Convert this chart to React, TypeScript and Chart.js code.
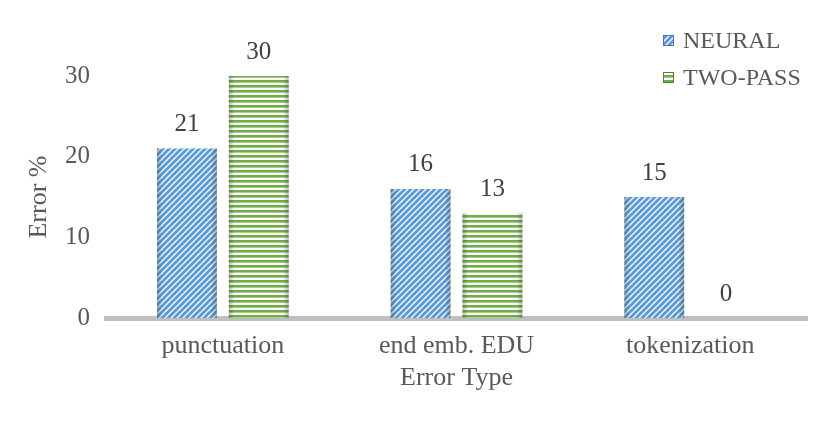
import React, { useEffect, useRef } from "react";
import { Chart, registerables } from "chart.js";

Chart.register(...registerables);

const categories = ["punctuation", "end emb. EDU", "tokenization"];
const neuralValues = [21, 16, 15];
const twoPassValues = [30, 13, 0];
const yTicks = [0, 10, 20, 30];
const seriesNames = ["NEURAL", "TWO-PASS"];

const FONT = "'Liberation Serif', 'Times New Roman', serif";
const TEXT = "#595959";

function makeDiagPattern(): CanvasPattern | string {
  const s = 6;
  const c = document.createElement("canvas");
  c.width = s;
  c.height = s;
  const x = c.getContext("2d");
  if (!x) return "#5B9BD5";
  x.fillStyle = "#ffffff";
  x.fillRect(0, 0, s, s);
  x.strokeStyle = "#5B9BD5";
  x.lineWidth = 3;
  x.beginPath();
  for (let k = -1; k <= 1; k++) {
    x.moveTo(k * s - 1, s + 1);
    x.lineTo(k * s + s + 1, -1);
  }
  x.stroke();
  const p = x.createPattern(c, "repeat");
  return p || "#5B9BD5";
}

function makeHorizPattern(): CanvasPattern | string {
  const h = 5;
  const c = document.createElement("canvas");
  c.width = 4;
  c.height = h;
  const x = c.getContext("2d");
  if (!x) return "#70AD47";
  x.fillStyle = "#ffffff";
  x.fillRect(0, 0, 4, h);
  x.fillStyle = "#70AD47";
  x.fillRect(0, 0, 4, 2.6);
  const p = x.createPattern(c, "repeat");
  return p || "#70AD47";
}

export default function App() {
  const ref = useRef<HTMLCanvasElement | null>(null);

  useEffect(() => {
    if (!ref.current) return;
    const blue = makeDiagPattern();
    const green = makeHorizPattern();

    const shadePlugin = {
      id: "shade",
      afterDatasetsDraw(chart: any) {
        const ctx = chart.ctx;
        chart.data.datasets.forEach((_ds: any, i: number) => {
          const meta = chart.getDatasetMeta(i);
          meta.data.forEach((bar: any) => {
            const left = bar.x - bar.width / 2;
            const w = bar.width;
            const top = bar.y;
            const hgt = bar.base - bar.y;
            if (hgt <= 0) return;
            const g = ctx.createLinearGradient(left, 0, left + w, 0);
            g.addColorStop(0, "rgba(60,60,60,0.35)");
            g.addColorStop(0.1, "rgba(60,60,60,0)");
            g.addColorStop(0.9, "rgba(60,60,60,0)");
            g.addColorStop(1, "rgba(60,60,60,0.35)");
            ctx.save();
            ctx.fillStyle = g;
            ctx.fillRect(left, top, w, hgt);
            ctx.restore();
          });
        });
      },
    };

    const labelPlugin = {
      id: "dataLabels",
      afterDatasetsDraw(chart: any) {
        const ctx = chart.ctx;
        ctx.save();
        ctx.font = `25px ${FONT}`;
        ctx.fillStyle = "#404040";
        ctx.textAlign = "center";
        ctx.textBaseline = "middle";
        chart.data.datasets.forEach((ds: any, i: number) => {
          const meta = chart.getDatasetMeta(i);
          meta.data.forEach((bar: any, j: number) => {
            ctx.fillText(String(ds.data[j]), bar.x, bar.y - 24);
          });
        });
        ctx.restore();
      },
    };

    const legendPlugin = {
      id: "customLegend",
      afterDraw(chart: any) {
        const ctx = chart.ctx;
        ctx.save();
        ctx.font = `24px ${FONT}`;
        ctx.textBaseline = "middle";
        ctx.textAlign = "left";
        const fills = [blue, green];
        const ys = [41, 78];
        seriesNames.forEach((name, i) => {
          ctx.fillStyle = fills[i];
          ctx.fillRect(663, ys[i] - 6, 11, 11);
          ctx.strokeStyle = i === 0 ? "#4472C4" : "#548235";
          ctx.lineWidth = 1;
          ctx.strokeRect(663.5, ys[i] - 5.5, 10, 10);
          ctx.fillStyle = TEXT;
          ctx.fillText(name, 683, ys[i] + 1);
        });
        ctx.restore();
      },
    };

    const chart = new Chart(ref.current, {
      type: "bar",
      data: {
        labels: categories,
        datasets: [
          {
            label: seriesNames[0],
            data: neuralValues,
            backgroundColor: blue as any,
            borderWidth: 0,
            categoryPercentage: 0.615,
            barPercentage: 0.833,
          },
          {
            label: seriesNames[1],
            data: twoPassValues,
            backgroundColor: green as any,
            borderWidth: 0,
            categoryPercentage: 0.615,
            barPercentage: 0.833,
          },
        ],
      },
      options: {
        animation: false,
        responsive: true,
        maintainAspectRatio: false,
        layout: { padding: { left: 0, right: 23, top: 76, bottom: 29 } },
        plugins: {
          legend: { display: false },
          tooltip: { enabled: false },
        },
        scales: {
          x: {
            grid: { display: false, drawTicks: false },
            border: { display: true, color: "#bfbfbf", width: 5 },
            ticks: {
              color: TEXT,
              font: { family: FONT, size: 26 },
              padding: 13,
            },
            title: {
              display: true,
              text: "Error Type",
              color: TEXT,
              font: { family: FONT, size: 26 },
              padding: { top: 0, bottom: 0 },
            },
            afterFit: (s: any) => {
              s.height = 76;
            },
          },
          y: {
            min: 0,
            max: 30,
            afterBuildTicks: (s: any) => {
              s.ticks = yTicks.map((v) => ({ value: v }));
            },
            grid: { display: false, drawTicks: false },
            border: { display: false },
            ticks: {
              color: TEXT,
              font: { family: FONT, size: 25 },
              padding: 16,
            },
            title: {
              display: true,
              text: "Error %",
              color: TEXT,
              font: { family: FONT, size: 26 },
              padding: { top: 24, bottom: 0 },
            },
            afterFit: (s: any) => {
              s.width = 106;
            },
          },
        },
      },
      plugins: [shadePlugin, labelPlugin, legendPlugin],
    });
    return () => chart.destroy();
  }, []);

  return (
    <div style={{ position: "absolute", left: 0, top: 0, width: 830, height: 423, background: "#fff" }}>
      <canvas ref={ref} />
    </div>
  );
}
